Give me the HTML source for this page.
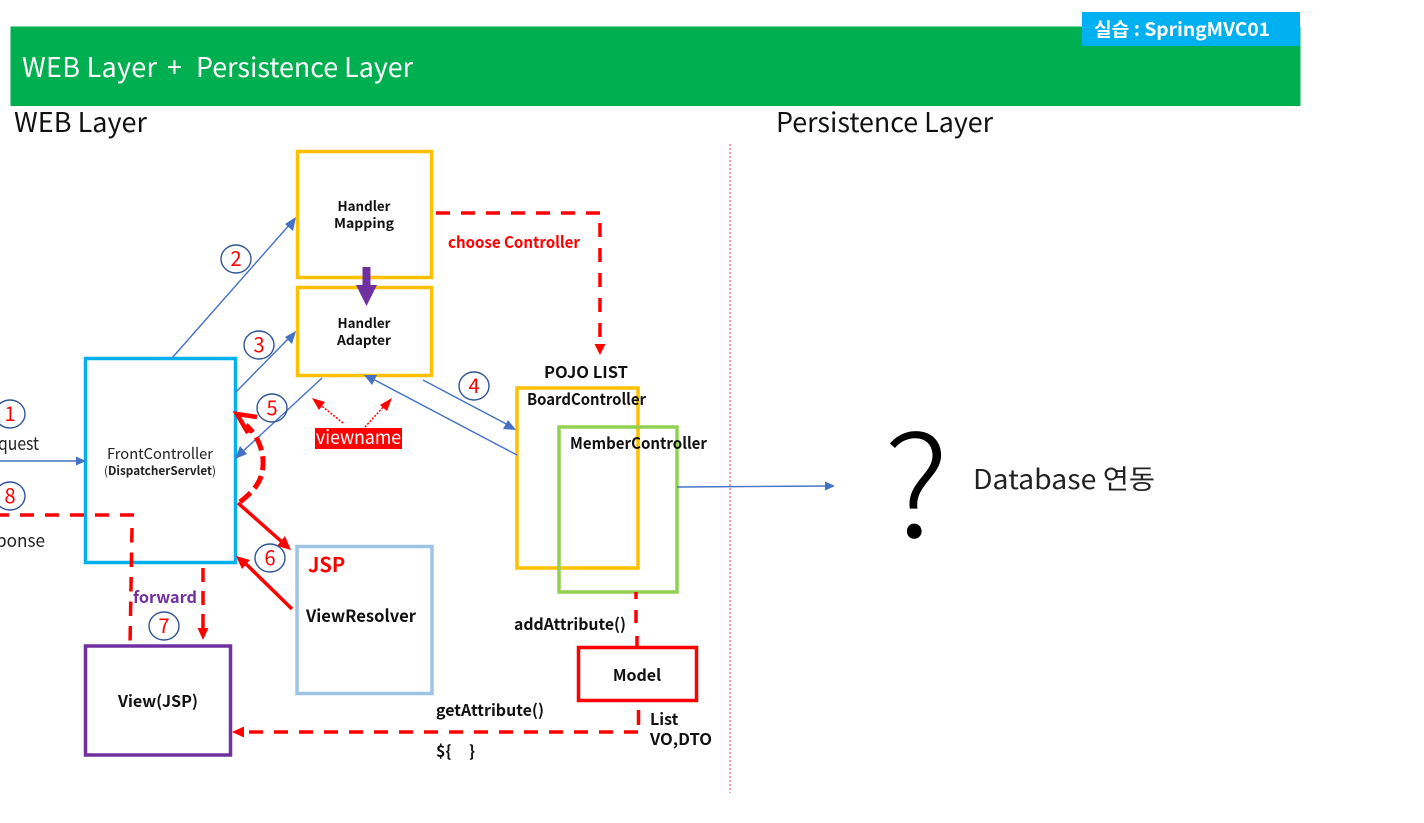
<!DOCTYPE html>
<html>
<head>
<meta charset="utf-8">
<style>
html,body{margin:0;padding:0;background:#fff;width:1424px;height:823px;overflow:hidden}
svg{display:block}
text{font-family:"Noto Sans CJK KR","Liberation Sans",sans-serif}
.b{font-weight:700;fill:#111}
.n{fill:#f00;font-size:20px;text-anchor:middle}
.c{fill:none;stroke:#2F5597;stroke-width:1.4}
.bl{stroke:#4472C4;stroke-width:1.4;fill:none}
.bh{fill:#4472C4}
.rd{stroke:#f00;stroke-width:3.5;fill:none;stroke-dasharray:14 11}
.rs{stroke:#f00;stroke-width:3.5;fill:none}
.rh{fill:#f00}
</style>
</head>
<body>
<svg width="1424" height="823" viewBox="0 0 1424 823" xmlns="http://www.w3.org/2000/svg">
<rect x="10.500" y="26.500" width="1290" height="79.500" fill="#00B050"/>
<rect x="1082" y="12" width="218" height="34" fill="#00B0F0"/>
<text x="1094" y="36" font-size="19" font-weight="700" fill="#fff" textLength="176" lengthAdjust="spacingAndGlyphs">실습 : SpringMVC01</text>
<text x="22" y="77" font-size="27" fill="#fff" textLength="135" lengthAdjust="spacing">WEB Layer</text>
<text x="167" y="77" font-size="27" fill="#fff">+</text>
<text x="196" y="77" font-size="27" fill="#fff" textLength="217" lengthAdjust="spacingAndGlyphs">Persistence Layer</text>
<text x="14" y="132" font-size="27" fill="#111" textLength="133" lengthAdjust="spacing">WEB Layer</text>
<text x="776" y="132" font-size="27" fill="#111" textLength="217" lengthAdjust="spacingAndGlyphs">Persistence Layer</text>
<line x1="730" y1="144" x2="730" y2="793" stroke="#F08080" stroke-width="1.500" stroke-dasharray="2 2"/>

<!-- boxes -->
<rect x="297.500" y="151.500" width="134" height="126" fill="#fff" stroke="#FFC000" stroke-width="3.500"/>
<rect x="297.500" y="287.500" width="134" height="88" fill="#fff" stroke="#FFC000" stroke-width="3.500"/>
<rect x="85.500" y="358.500" width="150" height="204" fill="#fff" stroke="#00B0F0" stroke-width="3.500"/>
<rect x="297" y="546.500" width="135" height="147" fill="#fff" stroke="#9DC3E6" stroke-width="3.500"/>
<rect x="85.500" y="646" width="145" height="109" fill="#fff" stroke="#7030A0" stroke-width="3.500"/>
<rect x="517" y="388" width="121" height="180" fill="none" stroke="#FFC000" stroke-width="3.500"/>
<rect x="559" y="427" width="118" height="165" fill="none" stroke="#92D050" stroke-width="3.500"/>
<rect x="578.500" y="647.500" width="118" height="53" fill="#fff" stroke="#f00" stroke-width="3.500"/>

<!-- purple arrow -->
<rect x="362.500" y="267" width="8" height="20" fill="#7030A0"/>
<polygon points="356,285 377,285 366.500,306" fill="#7030A0"/>

<!-- blue connectors -->
<line class="bl" x1="172" y1="358" x2="291" y2="223"/><polygon class="bh" points="296,217 293,231 285,224"/>
<line class="bl" x1="236" y1="392" x2="291" y2="336"/><polygon class="bh" points="296,331 292,344 285,337"/>
<line class="bl" x1="322" y1="378" x2="240" y2="454"/><polygon class="bh" points="235,459 240,446 247,454"/>
<line class="bl" x1="423" y1="380" x2="510" y2="426"/><polygon class="bh" points="516,430 503,429 508,420"/>
<line class="bl" x1="517" y1="455" x2="371" y2="378"/><polygon class="bh" points="364,375 377,375 372,385"/>
<line class="bl" x1="0" y1="461" x2="78" y2="461"/><polygon class="bh" points="86,461 76,456.500 76,465.500"/>
<line class="bl" x1="677" y1="487" x2="827" y2="486"/><polygon class="bh" points="835,486 825,481.500 825,490.500"/>

<!-- red dashed -->
<line class="rd" x1="436" y1="213" x2="600" y2="213"/>
<line class="rd" x1="600" y1="223" x2="600" y2="338"/><polygon class="rh" points="594.500,344 605.500,344 600,355"/>
<line class="rd" x1="203" y1="568" x2="203" y2="628" style="stroke-dasharray:14 9"/><polygon class="rh" points="197.500,628 208.500,628 203,640"/>
<line class="rd" x1="134" y1="515" x2="0" y2="515"/>
<line class="rd" x1="132" y1="528" x2="130" y2="646" style="stroke-dasharray:14.500 10"/>
<line class="rs" x1="636" y1="592" x2="636" y2="599"/>
<line class="rs" x1="636" y1="610" x2="636" y2="623"/>
<line class="rs" x1="637" y1="636" x2="637" y2="647"/>
<line class="rs" x1="638.500" y1="710" x2="638.500" y2="725"/>
<line class="rd" x1="638" y1="732" x2="243" y2="732"/><polygon class="rh" points="232,732 244,726.500 244,737.500"/>

<!-- curved red dashed -->
<path d="M240,502 C255,490 264,480 263,460 C262,445 255,433 246,425" stroke="#f00" stroke-width="5" fill="none" stroke-dasharray="14 6"/>
<path d="M257,417 L237,414 L248,433" stroke="#f00" stroke-width="4.500" fill="none"/>

<!-- solid red -->
<line class="rs" x1="238" y1="503" x2="282" y2="542"/><polygon class="rh" points="291,550 277,546 285,536"/>
<line class="rs" x1="292" y1="609" x2="244" y2="562"/><polygon class="rh" points="236,556 250,560 242,569"/>

<!-- dotted red -->
<line x1="343" y1="423" x2="318" y2="403" stroke="#f00" stroke-width="1.500" stroke-dasharray="2 1.500"/><polygon class="rh" points="312,398 325,402 319,410"/>
<line x1="365" y1="427" x2="386" y2="404" stroke="#f00" stroke-width="1.500" stroke-dasharray="2 1.500"/><polygon class="rh" points="392,398 387,411 380,405"/>

<!-- labels -->
<text x="364" y="211" class="b" font-size="13.500" text-anchor="middle" textLength="53" lengthAdjust="spacingAndGlyphs">Handler</text>
<text x="364" y="228" class="b" font-size="13.500" text-anchor="middle" textLength="60" lengthAdjust="spacingAndGlyphs">Mapping</text>
<text x="364" y="328" class="b" font-size="13.500" text-anchor="middle" textLength="53" lengthAdjust="spacingAndGlyphs">Handler</text>
<text x="364" y="345" class="b" font-size="13.500" text-anchor="middle" textLength="54" lengthAdjust="spacingAndGlyphs">Adapter</text>
<text x="160" y="459" font-size="15" fill="#222" text-anchor="middle" textLength="106" lengthAdjust="spacingAndGlyphs">FrontController</text>
<text x="160" y="475" font-size="12" fill="#222" text-anchor="middle" textLength="112" lengthAdjust="spacingAndGlyphs">(<tspan font-weight="700">DispatcherServlet</tspan>)</text>
<text x="448" y="248" font-size="16" font-weight="700" fill="#f00" textLength="132" lengthAdjust="spacingAndGlyphs">choose Controller</text>
<text x="544" y="378" class="b" font-size="16" textLength="84" lengthAdjust="spacingAndGlyphs">POJO LIST</text>
<text x="527" y="405" class="b" font-size="16" textLength="119" lengthAdjust="spacingAndGlyphs">BoardController</text>
<text x="570" y="449" class="b" font-size="16" textLength="137" lengthAdjust="spacingAndGlyphs">MemberController</text>
<rect x="315" y="428" width="87" height="21" fill="#f00"/>
<text x="316" y="444" font-size="19" fill="#fff" textLength="85" lengthAdjust="spacingAndGlyphs">viewname</text>
<text x="308" y="572" font-size="20" font-weight="700" fill="#f00">JSP</text>
<text x="306" y="622" class="b" font-size="17" textLength="110" lengthAdjust="spacingAndGlyphs">ViewResolver</text>
<text x="158" y="707" class="b" font-size="16" text-anchor="middle" textLength="80" lengthAdjust="spacingAndGlyphs">View(JSP)</text>
<text x="637" y="681" class="b" font-size="16" text-anchor="middle">Model</text>
<text x="514" y="630" class="b" font-size="16" textLength="112" lengthAdjust="spacingAndGlyphs">addAttribute()</text>
<text x="436" y="716" class="b" font-size="16" textLength="108" lengthAdjust="spacingAndGlyphs">getAttribute()</text>
<text x="436" y="757" class="b" font-size="16">${</text>
<text x="469" y="757" class="b" font-size="16">}</text>
<text x="650" y="725" class="b" font-size="16">List</text>
<text x="650" y="745" class="b" font-size="16" textLength="62" lengthAdjust="spacingAndGlyphs">VO,DTO</text>
<text x="133" y="603" font-size="16" font-weight="700" fill="#7030A0" textLength="64" lengthAdjust="spacingAndGlyphs">forward</text>
<text x="-2" y="450" font-size="18" fill="#222" textLength="41" lengthAdjust="spacingAndGlyphs">quest</text>
<text x="-4" y="547" font-size="18" fill="#222" textLength="49" lengthAdjust="spacingAndGlyphs">ponse</text>
<text x="884" y="537" font-size="140" font-weight="300" fill="#000" textLength="65" lengthAdjust="spacingAndGlyphs">?</text>
<text x="973" y="489" font-size="27" fill="#222" textLength="182" lengthAdjust="spacingAndGlyphs">Database 연동</text>

<!-- numbered circles -->
<ellipse class="c" cx="10" cy="414" rx="15" ry="14"/><text class="n" x="10" y="421">1</text>
<ellipse class="c" cx="236" cy="259" rx="15" ry="14"/><text class="n" x="236" y="266">2</text>
<ellipse class="c" cx="259" cy="345" rx="15" ry="14"/><text class="n" x="259" y="352">3</text>
<ellipse class="c" cx="474" cy="386" rx="15" ry="14"/><text class="n" x="474" y="393">4</text>
<ellipse class="c" cx="272" cy="408" rx="15" ry="14"/><text class="n" x="272" y="415">5</text>
<ellipse class="c" cx="270" cy="558" rx="15" ry="14"/><text class="n" x="270" y="565">6</text>
<ellipse class="c" cx="164" cy="626" rx="15" ry="14"/><text class="n" x="164" y="633">7</text>
<ellipse class="c" cx="10" cy="496" rx="15" ry="14"/><text class="n" x="10" y="503">8</text>
</svg>
</body>
</html>
